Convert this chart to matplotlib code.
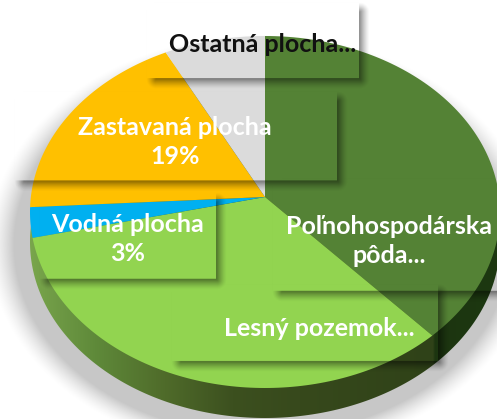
import numpy as np
import matplotlib
matplotlib.use("Agg")
import matplotlib.pyplot as plt
from matplotlib.patches import Polygon

plt.rcParams['font.family'] = ['Lato', 'DejaVu Sans']

# Values (only two are printed in the chart)
categories = ["Poľnohospodárska pôda", "Lesný pozemok", "Vodná plocha", "Zastavaná plocha", "Ostatná plocha"]
shares = [39, 32, 3, 19, 7]
slice_colors = ["#548235", "#92d450", "#00b0f0", "#ffc000", "#dbdbdb"]
label_texts = ["Poľnohospodárska\npôda...", "Lesný pozemok...", "Vodná plocha\n3%", "Zastavaná plocha\n19%", "Ostatná plocha..."]
label_colors = ["white", "white", "white", "white", "#111111"]
label_centers = [(389, 241), (319, 328), (128, 239), (175, 142), (263, 45)]
label_boxes = [(273, 180, 520, 291), (172, 285, 438, 361), (40, 194, 216, 279), (15, 93, 337, 181), (147, 4, 359, 79)]

W, H = 497, 419
cx, cy, rx, ry = 265, 212, 235, 176
apex_x, apex_y = 265, 197
squash = 161 / 235
depth = 30

fig = plt.figure(figsize=(W / 100, H / 100), dpi=100, facecolor="white")
ax = fig.add_axes([0, 0, 1, 1])
ax.axis("off")

xx, yy = np.meshgrid(np.arange(W) + 0.5, np.arange(H) + 0.5)


def rim_points(theta):
    # where a ray from the apex hits the rim of the perspective ellipse
    dx = np.sin(theta)
    dy = -np.cos(theta) * squash
    oy = apex_y - cy
    a = (dx / rx) ** 2 + (dy / ry) ** 2
    b = 2 * oy * dy / ry ** 2
    c = (oy / ry) ** 2 - 1
    s = (-b + np.sqrt(b ** 2 - 4 * a * c)) / (2 * a)
    return apex_x + s * dx, apex_y + s * dy


# Soft shadow under the pie
dist = (np.sqrt(((xx - 262) / 248) ** 2 + ((yy - 245) / 190) ** 2) - 1) * 200
shadow = np.zeros((H, W, 4))
shadow[..., 3] = 0.22 * np.clip(1 - dist / 22, 0, 1) ** 1.5
ax.imshow(shadow, extent=(0, W, H, 0), aspect="auto", zorder=1)

# Side wall, darker towards the front
t = np.linspace(0, 2 * np.pi, 400)
wall_shape = Polygon(np.c_[cx + rx * np.sin(t), cy + depth + ry * np.cos(t)], closed=True,
                     transform=ax.transData, facecolor="none", edgecolor="none")
ax.add_patch(wall_shape)
stops_x = [30, 60, 95, 165, 233, 300, 433, 435, 497]
stops_rgb = np.array(["#79a64c", "#6d9844", "#5f8a3a", "#4f6b2a", "#3c501f", "#37491c", "#2f4218", "#1d3510", "#1c3810"])
stops_rgb = np.array([matplotlib.colors.to_rgb(c) for c in stops_rgb])
wall = np.stack([np.interp(xx[0], stops_x, stops_rgb[:, i]) for i in range(3)], axis=-1)[np.newaxis]
wall_img = ax.imshow(wall, extent=(0, W, H, 0), aspect="auto", zorder=2)
wall_img.set_clip_path(wall_shape)

# Top surface
bounds = np.radians(np.r_[0, np.cumsum(shares)] * 3.6)
for start, end, color in zip(bounds[:-1], bounds[1:], slice_colors):
    px, py = rim_points(np.linspace(start, end, 120))
    ax.fill(np.r_[apex_x, px], np.r_[apex_y, py], color=color, lw=0, zorder=3)

# Label boxes have no fill of their own, only a drop shadow to the right and below
keep = np.ones((H, W))
for x0, y0, x1, y1 in label_boxes:
    ddx = np.maximum.reduce([x0 + 9 - xx, np.zeros_like(xx), xx - (x1 + 1)])
    ddy = np.maximum.reduce([y0 + 9 - yy, np.zeros_like(yy), yy - (y1 + 1)])
    a = 0.42 * np.clip(1 - np.hypot(ddx, ddy) / 10, 0, 1) ** 1.4
    a[(xx > x0) & (xx < x1) & (yy > y0) & (yy < y1)] = 0
    keep *= 1 - a
overlay = np.zeros((H, W, 4))
overlay[..., 3] = 1 - keep
ax.imshow(overlay, extent=(0, W, H, 0), aspect="auto", zorder=4)

for text, color, (x, y) in zip(label_texts, label_colors, label_centers):
    ax.text(x, y, text, color=color, fontsize=18, fontweight="bold", ha="center", va="center",
            linespacing=1.36, zorder=5)

ax.set_xlim(0, W)
ax.set_ylim(H, 0)
fig.savefig("out.png", dpi=100)
